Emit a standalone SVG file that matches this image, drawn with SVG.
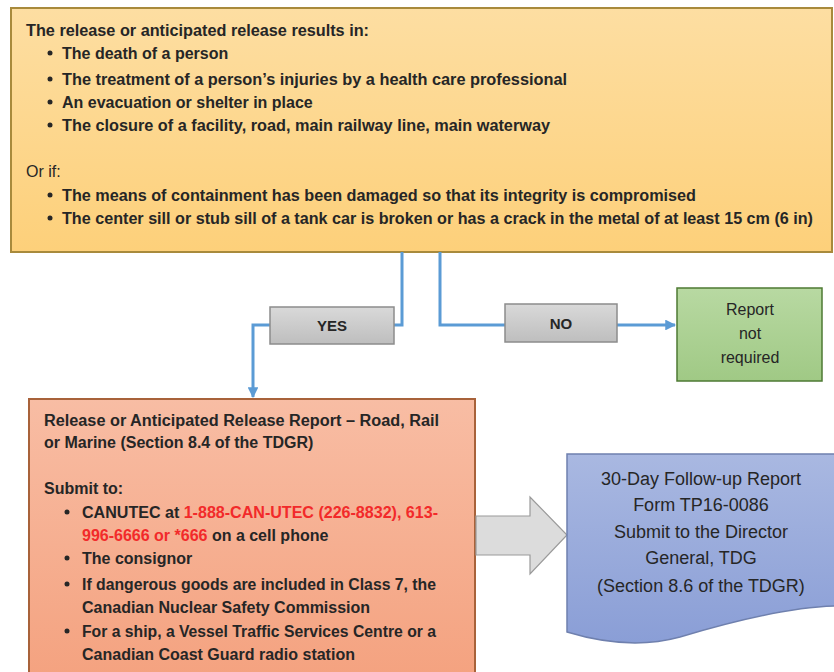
<svg xmlns="http://www.w3.org/2000/svg" width="834" height="672" viewBox="0 0 834 672">
<style>
text{font-family:"Liberation Sans",Arial,sans-serif;fill:#262626}
.b{font-weight:bold}
.t{font-size:16px}
.c{text-anchor:middle}
.red{fill:#F22A2A}
.conn{fill:none;stroke:#5B9BD5;stroke-width:3}
.dot{fill:#262626}
.bl{font-size:18px;text-anchor:middle}
</style>
<defs>
<linearGradient id="gY" x1="0" y1="0" x2="0" y2="1"><stop offset="0" stop-color="#FDDEA2"/><stop offset="1" stop-color="#FDD07A"/></linearGradient>
<linearGradient id="gO" x1="0" y1="0" x2="0" y2="1"><stop offset="0" stop-color="#F8BDA4"/><stop offset="1" stop-color="#F4A17E"/></linearGradient>
<linearGradient id="gG" x1="0" y1="0" x2="0" y2="1"><stop offset="0" stop-color="#B8D9A2"/><stop offset="1" stop-color="#A0C985"/></linearGradient>
<linearGradient id="gS" x1="0" y1="0" x2="0" y2="1"><stop offset="0" stop-color="#D9D9D9"/><stop offset="1" stop-color="#BEBEBE"/></linearGradient>
<linearGradient id="gB" x1="0" y1="0" x2="0" y2="1"><stop offset="0" stop-color="#A9B8E1"/><stop offset="1" stop-color="#8A9ED6"/></linearGradient>
<marker id="ah" viewBox="0 0 10 10" refX="9" refY="5" markerWidth="3.6" markerHeight="3.6" orient="auto" markerUnits="strokeWidth"><path d="M0,0 L10,5 L0,10 Z" fill="#5B9BD5"/></marker>
</defs>

<g id="criteria">
<rect x="11" y="8" width="821" height="244" fill="url(#gY)" stroke="#A88A3C" stroke-width="2"/>
<text class="t b" x="26" y="36" textLength="343" lengthAdjust="spacingAndGlyphs">The release or anticipated release results in:</text>
<circle class="dot" cx="50" cy="53" r="2.5"/><text class="t b" x="62" y="59">The death of a person</text>
<circle class="dot" cx="50" cy="79" r="2.5"/><text class="t b" x="62" y="85" textLength="505" lengthAdjust="spacingAndGlyphs">The treatment of a person’s injuries by a health care professional</text>
<circle class="dot" cx="50" cy="102" r="2.5"/><text class="t b" x="62" y="108">An evacuation or shelter in place</text>
<circle class="dot" cx="50" cy="125" r="2.5"/><text class="t b" x="62" y="131" textLength="488" lengthAdjust="spacingAndGlyphs">The closure of a facility, road, main railway line, main waterway</text>
<text class="t" x="26" y="177">Or if:</text>
<circle class="dot" cx="50" cy="195" r="2.5"/><text class="t b" x="62" y="201" textLength="634" lengthAdjust="spacingAndGlyphs">The means of containment has been damaged so that its integrity is compromised</text>
<circle class="dot" cx="50" cy="218" r="2.5"/><text class="t b" x="62" y="224" textLength="751" lengthAdjust="spacingAndGlyphs">The center sill or stub sill of a tank car is broken or has a crack in the metal of at least 15 cm (6 in)</text>
</g>

<g id="connectors">
<polyline class="conn" points="402,252 402,325 394,325"/>
<polyline class="conn" points="270,325 253,325 253,397" marker-end="url(#ah)"/>
<polyline class="conn" points="440,252 440,325 505,325"/>
<polyline class="conn" points="617,325 675,325" marker-end="url(#ah)"/>
</g>

<g id="yes">
<rect x="270" y="307" width="124" height="37" fill="url(#gS)" stroke="#8C8C8C" stroke-width="1.5"/>
<text class="b c" x="332" y="331" font-size="15">YES</text>
</g>

<g id="no">
<rect x="505" y="304" width="112" height="38" fill="url(#gS)" stroke="#8C8C8C" stroke-width="1.5"/>
<text class="b c" x="561" y="329" font-size="15">NO</text>
</g>

<g id="not-required">
<rect x="677" y="288" width="145" height="93" fill="url(#gG)" stroke="#4E7A33" stroke-width="1.5"/>
<text class="t c" x="750" y="315">Report</text>
<text class="t c" x="750" y="339">not</text>
<text class="t c" x="750" y="363">required</text>
</g>

<g id="release-report">
<rect x="29" y="399" width="446" height="290" fill="url(#gO)" stroke="#A8623A" stroke-width="2"/>
<text class="t b" x="44" y="426" textLength="395" lengthAdjust="spacingAndGlyphs">Release or Anticipated Release Report – Road, Rail</text>
<text class="t b" x="44" y="448">or Marine (Section 8.4 of the TDGR)</text>
<text class="t b" x="44" y="494">Submit to:</text>
<circle class="dot" cx="67" cy="512" r="2.5"/>
<text class="t b" x="82" y="518" textLength="356" lengthAdjust="spacingAndGlyphs">CANUTEC at <tspan class="red">1-888-CAN-UTEC (226-8832), 613-</tspan></text>
<text class="t b" x="82" y="541"><tspan class="red">996-6666 or *666</tspan> on a cell phone</text>
<circle class="dot" cx="67" cy="558" r="2.5"/>
<text class="t b" x="82" y="564">The consignor</text>
<circle class="dot" cx="67" cy="584" r="2.5"/>
<text class="t b" x="82" y="590" textLength="354" lengthAdjust="spacingAndGlyphs">If dangerous goods are included in Class 7, the</text>
<text class="t b" x="82" y="613">Canadian Nuclear Safety Commission</text>
<circle class="dot" cx="67" cy="631" r="2.5"/>
<text class="t b" x="82" y="637" textLength="354" lengthAdjust="spacingAndGlyphs">For a ship, a Vessel Traffic Services Centre or a</text>
<text class="t b" x="82" y="660">Canadian Coast Guard radio station</text>
</g>

<g id="block-arrow">
<path d="M476,516 L530,516 L530,497 L567,535 L530,574 L530,555 L476,555 Z" fill="#DCDCDC" stroke="#9A9A9A" stroke-width="1.2"/>
</g>

<g id="follow-up">
<path d="M567,454 L840,454 L840,606 C790,606 720,625 680,637 C640,648 600,642 567,632 Z" fill="url(#gB)" stroke="#6F80AE" stroke-width="1.5"/>
<text class="bl" x="701" y="485">30-Day Follow-up Report</text>
<text class="bl" x="701" y="511">Form TP16-0086</text>
<text class="bl" x="701" y="538">Submit to the Director</text>
<text class="bl" x="701" y="564">General, TDG</text>
<text class="bl" x="701" y="592">(Section 8.6 of the TDGR)</text>
</g>
</svg>
